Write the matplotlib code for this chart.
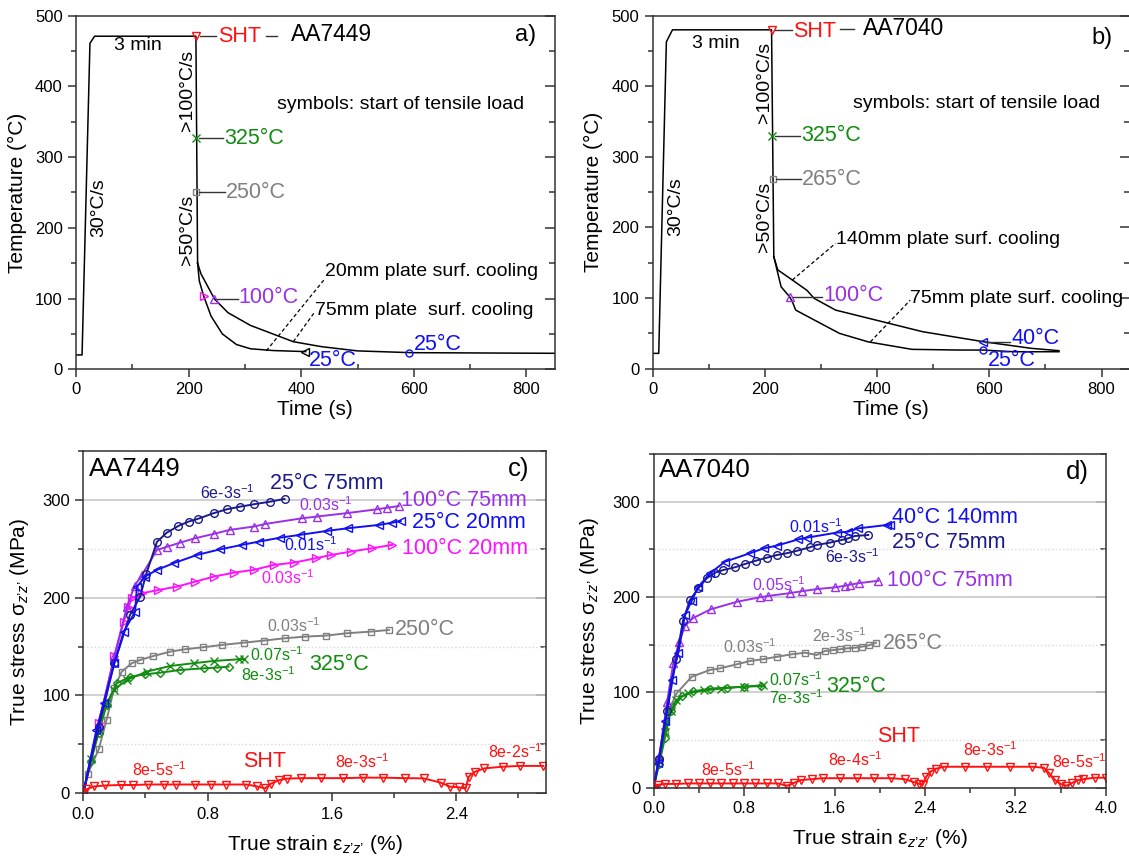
import matplotlib
matplotlib.use("Agg")
import matplotlib.pyplot as plt
from matplotlib.ticker import MultipleLocator, FormatStrFormatter

plt.rcParams['font.family'] = ['Liberation Sans', 'DejaVu Sans']
plt.rcParams['mathtext.fontset'] = 'custom'
plt.rcParams['mathtext.rm'] = 'Liberation Sans'
plt.rcParams['mathtext.it'] = 'Liberation Sans:italic'
plt.rcParams['mathtext.bf'] = 'Liberation Sans:bold'

NAVY = '#1a1a8c'
BLUE = '#1010f0'
PURPLE = '#9a30e8'
MAGENTA = '#ff10ff'
GRAY = '#808080'
GREEN = '#118c11'
RED = '#ff1010'

# ---------------- panel a data (AA7449 thermal history) ----------------
a_main_t = [0, 10.8, 24.8, 33, 213, 216]
a_main_T = [20.3, 20.3, 461, 471, 471, 150]
a_75_t = [216, 222, 246, 270, 310, 386, 436, 500, 595, 850]
a_75_T = [150, 135, 99.4, 80, 62, 39, 32, 26, 23.5, 22.6]
a_20_t = [216, 219, 227, 240, 260, 285, 310, 350, 408]
a_20_T = [150, 125, 103, 75, 50, 35, 29, 26.5, 25]

# ---------------- panel b data (AA7040 thermal history) ----------------
b_main_t = [0, 11, 24.6, 35.5, 212, 216]
b_main_T = [21.7, 21.7, 463, 480, 480, 158.6]
b_140_t = [216, 223, 249, 275, 288, 326, 397, 481, 591, 675, 724]
b_140_T = [158.6, 140, 125.6, 111, 99.6, 83, 69, 52.4, 38, 28.8, 25.5]
b_75_t = [216, 229, 244, 249, 255, 288, 333, 384, 462, 546, 589, 643, 724]
b_75_T = [158.6, 116, 102, 95, 83, 69, 50, 38, 27.4, 26.4, 26.4, 24, 24]

# ---------------- panel c data (AA7449 stress-strain) ----------------
c_25_75_e = [0, 0.1, 0.2, 0.3, 0.366, 0.405, 0.474, 0.538, 0.613, 0.678, 0.736, 0.839, 0.925, 1.011, 1.097, 1.204, 1.295]
c_25_75_s = [0, 68, 133, 182, 201, 224, 257, 266.5, 273.4, 277.8, 280.5, 286.4, 290.4, 293.1, 295.5, 298.2, 301]
c_100_75_e = [0, 0.1, 0.2, 0.28, 0.33, 0.377, 0.474, 0.538, 0.624, 0.721, 0.839, 0.942, 1.097, 1.172, 1.409, 1.501, 1.694, 1.892, 1.957, 2.03]
c_100_75_s = [0, 70, 140, 190, 212, 223, 248.8, 252, 256.3, 260.8, 265.2, 269.3, 272.7, 275.4, 281.2, 282.9, 286.4, 290.4, 292, 293.7]
c_25_20_e = [0, 0.085, 0.131, 0.2, 0.26, 0.334, 0.345, 0.398, 0.474, 0.581, 0.732, 0.882, 1.022, 1.129, 1.269, 1.393, 1.57, 1.703, 1.903, 1.989, 2.043]
c_25_20_s = [0, 65, 92, 133, 165, 185.7, 211, 221.5, 228.4, 235.2, 243.7, 249.5, 254, 257.3, 261.4, 264.2, 268.3, 271, 274.4, 276.7, 278.5]
c_100_20_e = [0, 0.1, 0.2, 0.26, 0.29, 0.313, 0.377, 0.484, 0.603, 0.721, 0.839, 0.968, 1.097, 1.226, 1.355, 1.495, 1.596, 1.72, 1.86, 1.989]
c_100_20_s = [0, 72, 140, 175, 190, 199.4, 204.5, 207.9, 211.3, 216.4, 221.5, 225.6, 228.4, 233.5, 235.8, 240.3, 243.7, 247.1, 250.6, 254]
c_250_e = [0, 0.03, 0.1, 0.15, 0.2, 0.248, 0.313, 0.366, 0.452, 0.56, 0.656, 0.77, 0.893, 1.032, 1.161, 1.295, 1.43, 1.559, 1.694, 1.849, 1.967]
c_250_s = [0, 20, 45, 75, 108, 124.4, 133, 136.3, 140.4, 144.8, 147.3, 149.3, 151.7, 154, 156.1, 158.5, 160.2, 161.2, 163.6, 165.3, 167]
c_325f_e = [0, 0.05, 0.1, 0.15, 0.2, 0.28, 0.409, 0.56, 0.71, 0.839, 1.0, 1.032]
c_325f_s = [0, 35, 65, 92, 106, 115.9, 124.4, 130.2, 133, 135.3, 137, 137.3]
c_325s_e = [0, 0.05, 0.1, 0.15, 0.216, 0.302, 0.398, 0.495, 0.624, 0.774, 0.861, 0.935]
c_325s_s = [0, 33, 62, 90, 112.5, 119.2, 121.7, 123.3, 126.1, 127.8, 128.5, 129.5]
c_sht_e = [0, 0.02, 0.07, 0.14, 0.24, 0.32, 0.42, 0.52, 0.6, 0.72, 0.82, 0.92, 1.05, 1.12, 1.17, 1.21, 1.26, 1.31, 1.4, 1.53, 1.67, 1.8, 1.93, 2.07, 2.19, 2.3, 2.36, 2.42, 2.46, 2.48, 2.52, 2.58, 2.7, 2.81, 2.96]
c_sht_s = [0, 4, 7, 8, 8.5, 8.5, 9, 9, 9, 9, 9, 9, 9, 7, 5, 10, 13.5, 15, 15.5, 15.5, 15.5, 16, 16, 15.5, 15.3, 10.9, 6.8, 6, 5, 17, 22, 25.5, 27.2, 28, 28]

# ---------------- panel d data (AA7040 stress-strain) ----------------
d_40_140_e = [0, 0.039, 0.1, 0.16, 0.219, 0.278, 0.337, 0.396, 0.499, 0.631, 0.852, 0.976, 1.088, 1.28, 1.354, 1.619, 1.722, 1.81, 2.061, 2.09]
d_40_140_s = [0, 25.6, 70, 113, 141.6, 181.1, 196.1, 210.8, 224.9, 237, 245.9, 251.1, 253.8, 260.5, 262.2, 267.5, 268.5, 272, 275.5, 275.8]
d_25_75_e = [0, 0.05, 0.12, 0.2, 0.26, 0.322, 0.396, 0.469, 0.543, 0.616, 0.72, 0.808, 0.905, 1.0, 1.094, 1.177, 1.271, 1.383, 1.442, 1.56, 1.663, 1.722, 1.781, 1.898]
d_25_75_s = [0, 30, 80, 135, 175, 196.9, 209.1, 219.6, 225.5, 228.3, 231.2, 234.6, 238.1, 241.2, 244.1, 245.9, 248.6, 252.1, 254.6, 257, 259.8, 261.6, 264, 265]
d_100_75_e = [0, 0.05, 0.12, 0.174, 0.227, 0.278, 0.35, 0.505, 0.74, 0.941, 1.014, 1.206, 1.309, 1.442, 1.604, 1.692, 1.737, 1.819, 1.987]
d_100_75_s = [0, 32, 90, 130.5, 153.1, 170, 178, 187.1, 195.1, 199.7, 201.1, 204.1, 206, 208.3, 210.1, 211.8, 212.9, 214.6, 217]
d_265_e = [0, 0.05, 0.1, 0.15, 0.204, 0.337, 0.499, 0.587, 0.735, 0.852, 0.965, 1.094, 1.221, 1.339, 1.442, 1.515, 1.589, 1.648, 1.713, 1.781, 1.84, 1.907, 1.966]
d_265_s = [0, 30, 60, 85, 99, 116.4, 123.5, 125.2, 129.4, 132.9, 134.7, 137.4, 139.9, 141.6, 139.2, 143.4, 144.4, 145.2, 146.2, 146.8, 147.9, 149.4, 152.1]
d_325f_e = [0, 0.05, 0.1, 0.15, 0.2, 0.3, 0.45, 0.6, 0.8, 0.97]
d_325f_s = [0, 28, 58, 80, 92, 99, 102, 104, 106, 107.5]
d_325s_e = [0, 0.05, 0.1, 0.15, 0.25, 0.35, 0.5, 0.65, 0.8, 0.95]
d_325s_s = [0, 25, 52, 80, 96, 101, 104, 105, 106, 106.5]
d_sht_e = [0, 0.04, 0.1, 0.2, 0.3, 0.4, 0.5, 0.6, 0.7, 0.8, 0.9, 1.0, 1.1, 1.18, 1.24, 1.3, 1.4, 1.5, 1.65, 1.8, 1.95, 2.1, 2.22, 2.3, 2.35, 2.38, 2.41, 2.45, 2.5, 2.57, 2.75, 2.95, 3.15, 3.35, 3.45, 3.5, 3.55, 3.6, 3.65, 3.7, 3.75, 3.8, 3.9, 4.0]
d_sht_s = [0, 3, 4, 4, 4.5, 4.5, 4.5, 4.5, 4.5, 4.5, 4.5, 4.5, 4.5, 2, 5, 8, 9, 10, 10, 10, 10, 10, 9, 6, 4, 3, 11.5, 17, 20, 22, 22, 22, 22, 22, 21, 15, 8, 4, 2, 5, 8, 9, 10.5, 10.5]

FS_TICK = 12
FS_LAB = 15
FS_NOTE = 14
FS_COL = 15.5
FS_PANEL = 17
FS_COL2 = 15.5
FS_RATE = 11.5
FS_BIG = 18.5

fig = plt.figure(figsize=(11.29, 8.58), dpi=100)
ax_a = fig.add_axes([0.0673, 0.5696, 0.4239, 0.4121])
ax_b = fig.add_axes([0.578, 0.5703, 0.4226, 0.4114])
ax_c = fig.add_axes([0.0737, 0.0754, 0.4103, 0.399])
ax_d = fig.add_axes([0.5789, 0.0819, 0.4007, 0.389])


def style_axes(ax):
    for s in ax.spines.values():
        s.set_linewidth(1.1)
        s.set_color('#333333')
    ax.tick_params(axis='both', which='major', labelsize=FS_TICK, length=6, width=1.1, color='#333333')
    ax.tick_params(axis='both', which='minor', length=3.5, width=1.1, color='#333333')
    ax.tick_params(axis='x', which='both', direction='out')
    ax.tick_params(axis='y', which='both', direction='out', left=True, right=False)
    sec = ax.secondary_yaxis('right')
    sec.set_yticks(ax.get_yticks())
    sec.yaxis.set_minor_locator(ax.yaxis.get_minor_locator())
    sec.tick_params(axis='y', which='major', direction='in', length=7, width=1.1, labelright=False, color='#333333')
    sec.tick_params(axis='y', which='minor', direction='in', length=4, width=1.1, color='#333333')
    sec.spines['right'].set_visible(False)


def temp_panel(ax):
    ax.set_xlim(0, 850)
    ax.set_ylim(0, 500)
    ax.xaxis.set_major_locator(MultipleLocator(200))
    ax.xaxis.set_minor_locator(MultipleLocator(100))
    ax.yaxis.set_major_locator(MultipleLocator(100))
    ax.yaxis.set_minor_locator(MultipleLocator(50))
    ax.set_xlabel('Time (s)', fontsize=FS_LAB, labelpad=2)
    ax.set_ylabel('Temperature (°C)', fontsize=FS_LAB, labelpad=6)
    style_axes(ax)
    ax.tick_params(axis='x', which='minor', direction='in')


def ss_panel(ax, xmax):
    ax.set_xlim(0, xmax)
    ax.set_ylim(0, 350)
    ax.xaxis.set_major_locator(MultipleLocator(0.8))
    ax.xaxis.set_minor_locator(MultipleLocator(0.4))
    ax.xaxis.set_major_formatter(FormatStrFormatter('%.1f'))
    ax.yaxis.set_major_locator(MultipleLocator(100))
    ax.yaxis.set_minor_locator(MultipleLocator(50))
    ax.grid(True, which='major', axis='y', color='#c8c8c8', lw=1.2)
    ax.grid(True, which='minor', axis='y', color='#d8d8d8', lw=1.0, ls=':')
    ax.set_axisbelow(True)
    ax.set_xlabel('True strain ε$_{z’z’}$ (%)', fontsize=FS_LAB, labelpad=8)
    ax.set_ylabel('True stress σ$_{z’z’}$ (MPa)', fontsize=FS_LAB, labelpad=8)
    style_axes(ax)


# ================= panel a =================
temp_panel(ax_a)
lk = dict(color='black', lw=1.1)
ax_a.plot(a_main_t, a_main_T, **lk)
ax_a.plot(a_75_t, a_75_T, **lk)
ax_a.plot(a_20_t, a_20_T, **lk)
mk = dict(mfc='none', ms=6, mew=1.0, ls='none')
ax_a.plot([213], [471], marker='v', mec=RED, **mk)
ax_a.plot([213], [327], marker='x', mec=GREEN, **mk)
ax_a.plot([214], [250], marker='s', mec=GRAY, ms=4.5, mfc='none', mew=1.0, ls='none')
ax_a.plot([227], [103], marker='>', mec=MAGENTA, **mk)
ax_a.plot([246], [99.4], marker='^', mec=PURPLE, **mk)
ax_a.plot([407], [25], marker='<', mec='black', **mk)
ax_a.plot([592], [22.6], marker='o', mec=BLUE, mfc='none', ms=5, mew=1.0, ls='none')
ax_a.plot([220, 248], [471, 471], color='#333333', lw=1.0)
ax_a.plot([338, 357], [472, 472], color='#333333', lw=1.0)
ax_a.plot([218, 262], [327, 327], color='#333333', lw=1.0)
ax_a.plot([219, 265], [250, 250], color='#333333', lw=1.0)
ax_a.plot([250, 288], [99.4, 99.4], color='#333333', lw=1.0)
ax_a.text(253, 471, 'SHT', color=RED, fontsize=FS_COL, va='center', ha='left')
ax_a.text(382, 473, 'AA7449', color='black', fontsize=16.5, va='center', ha='left')
ax_a.text(264, 327, '325°C', color=GREEN, fontsize=FS_COL, va='center', ha='left')
ax_a.text(266, 250, '250°C', color=GRAY, fontsize=FS_COL, va='center', ha='left')
ax_a.text(289, 101, '100°C', color=PURPLE, fontsize=FS_COL, va='center', ha='left')
ax_a.text(413, 13, '25°C', color=BLUE, fontsize=FS_COL, va='center', ha='left')
ax_a.text(600, 35, '25°C', color=BLUE, fontsize=FS_COL, va='center', ha='left')
ax_a.text(110, 458, '3 min', fontsize=FS_NOTE, va='center', ha='center')
ax_a.text(41, 228, '30°C/s', fontsize=FS_NOTE, va='center', ha='center', rotation=90)
ax_a.text(198, 395, '>100°C/s', fontsize=FS_NOTE, va='center', ha='center', rotation=90)
ax_a.text(198, 197, '>50°C/s', fontsize=FS_NOTE, va='center', ha='center', rotation=90)
ax_a.text(357, 375, 'symbols: start of tensile load', fontsize=FS_NOTE, va='center', ha='left')
ax_a.text(443, 138, '20mm plate surf. cooling', fontsize=FS_NOTE, va='center', ha='left')
ax_a.text(424, 83, '75mm plate  surf. cooling', fontsize=FS_NOTE, va='center', ha='left')
ax_a.plot([338, 440], [26, 126], color='black', lw=0.9, ls=(0, (3, 2)))
ax_a.plot([386, 424], [39, 81], color='black', lw=0.9, ls=(0, (3, 2)))
ax_a.text(780, 473, 'a)', fontsize=FS_PANEL, va='center', ha='left')

# ================= panel b =================
temp_panel(ax_b)
ax_b.plot(b_main_t, b_main_T, **lk)
ax_b.plot(b_140_t, b_140_T, **lk)
ax_b.plot(b_75_t, b_75_T, **lk)
ax_b.plot([212], [480], marker='v', mec=RED, **mk)
ax_b.plot([213], [329.6], marker='x', mec=GREEN, **mk)
ax_b.plot([215], [268.6], marker='s', mec=GRAY, ms=4.5, mfc='none', mew=1.0, ls='none')
ax_b.plot([244], [102], marker='^', mec=PURPLE, **mk)
ax_b.plot([588], [38], marker='<', mec=BLUE, **mk)
ax_b.plot([589], [26.4], marker='o', mec=BLUE, mfc='none', ms=5, mew=1.0, ls='none')
ax_b.plot([218, 248], [480, 480], color='#333333', lw=1.0)
ax_b.plot([334, 359], [481, 481], color='#333333', lw=1.0)
ax_b.plot([218, 262], [329.6, 329.6], color='#333333', lw=1.0)
ax_b.plot([220, 264], [268.6, 268.6], color='#333333', lw=1.0)
ax_b.plot([250, 302], [102, 102], color='#333333', lw=1.0)
ax_b.plot([593, 637], [38, 38], color='#333333', lw=1.0)
ax_b.text(251, 478, 'SHT', color=RED, fontsize=FS_COL, va='center', ha='left')
ax_b.text(375, 482, 'AA7040', color='black', fontsize=16.5, va='center', ha='left')
ax_b.text(264, 329.6, '325°C', color=GREEN, fontsize=FS_COL, va='center', ha='left')
ax_b.text(266, 268.6, '265°C', color=GRAY, fontsize=FS_COL, va='center', ha='left')
ax_b.text(304, 103, '100°C', color=PURPLE, fontsize=FS_COL, va='center', ha='left')
ax_b.text(639, 43, '40°C', color=BLUE, fontsize=FS_COL, va='center', ha='left')
ax_b.text(597, 12, '25°C', color=BLUE, fontsize=FS_COL, va='center', ha='left')
ax_b.text(112, 461, '3 min', fontsize=FS_NOTE, va='center', ha='center')
ax_b.text(41, 229, '30°C/s', fontsize=FS_NOTE, va='center', ha='center', rotation=90)
ax_b.text(199, 406, '>100°C/s', fontsize=FS_NOTE, va='center', ha='center', rotation=90)
ax_b.text(199, 215, '>50°C/s', fontsize=FS_NOTE, va='center', ha='center', rotation=90)
ax_b.text(357, 375, 'symbols: start of tensile load', fontsize=FS_NOTE, va='center', ha='left')
ax_b.text(326, 183, '140mm plate surf. cooling', fontsize=FS_NOTE, va='center', ha='left')
ax_b.text(459, 100, '75mm plate surf. cooling', fontsize=FS_NOTE, va='center', ha='left')
ax_b.plot([249, 326], [125.6, 177.5], color='black', lw=0.9, ls=(0, (3, 2)))
ax_b.plot([388, 459], [38, 97], color='black', lw=0.9, ls=(0, (3, 2)))
ax_b.text(782, 468, 'b)', fontsize=FS_PANEL, va='center', ha='left')

# ================= panel c =================
ss_panel(ax_c, 2.98)
sk = dict(lw=1.4, ms=6, mfc='none', mew=1.0)
ax_c.plot(c_250_e, c_250_s, color=GRAY, marker='s', **{**sk, 'ms': 5})
ax_c.plot(c_325s_e, c_325s_s, color=GREEN, marker='D', **{**sk, 'ms': 4})
ax_c.plot(c_325f_e, c_325f_s, color=GREEN, marker='x', **sk)
ax_c.plot(c_100_20_e, c_100_20_s, color=MAGENTA, marker='>', **sk)
ax_c.plot(c_100_75_e, c_100_75_s, color=PURPLE, marker='^', **sk)
ax_c.plot(c_25_75_e, c_25_75_s, color=NAVY, marker='o', **{**sk, 'ms': 5.5})
ax_c.plot(c_25_20_e, c_25_20_s, color=BLUE, marker='<', **sk)
ax_c.plot(c_sht_e, c_sht_s, color=RED, marker='v', **sk)

R = '$^{-1}$'
ax_c.text(1.202, 317, '25°C 75mm', color=NAVY, fontsize=FS_COL2, va='center')
ax_c.text(0.753, 307, '6e-3s' + R, color=NAVY, fontsize=FS_RATE, va='center')
ax_c.text(2.043, 299, '100°C 75mm', color=PURPLE, fontsize=FS_COL2, va='center')
ax_c.text(1.386, 295, '0.03s' + R, color=PURPLE, fontsize=FS_RATE, va='center')
ax_c.text(2.112, 277, '25°C 20mm', color=BLUE, fontsize=FS_COL2, va='center')
ax_c.text(1.294, 254, '0.01s' + R, color=BLUE, fontsize=FS_RATE, va='center')
ax_c.text(2.054, 250.6, '100°C 20mm', color=MAGENTA, fontsize=FS_COL2, va='center')
ax_c.text(1.145, 220, '0.03s' + R, color=MAGENTA, fontsize=FS_RATE, va='center')
ax_c.text(2.008, 167.7, '250°C', color=GRAY, fontsize=FS_COL2, va='center')
ax_c.text(1.18, 171.5, '0.03s' + R, color=GRAY, fontsize=FS_RATE, va='center')
ax_c.text(1.075, 141.5, '0.07s' + R, color=GREEN, fontsize=FS_RATE, va='center')
ax_c.text(1.018, 121.7, '8e-3s' + R, color=GREEN, fontsize=FS_RATE, va='center')
ax_c.text(1.456, 131.3, '325°C', color=GREEN, fontsize=FS_COL2, va='center')
ax_c.text(1.03, 32.4, 'SHT', color=RED, fontsize=FS_COL2, va='center')
ax_c.text(0.316, 23.9, '8e-5s' + R, color=RED, fontsize=FS_RATE, va='center')
ax_c.text(1.617, 32.4, '8e-3s' + R, color=RED, fontsize=FS_RATE, va='center')
ax_c.text(2.607, 42.6, '8e-2s' + R, color=RED, fontsize=FS_RATE, va='center')
ax_c.text(0.035, 332, 'AA7449', fontsize=FS_BIG, va='center')
ax_c.text(2.734, 332, 'c)', fontsize=FS_BIG, va='center')

# ================= panel d =================
ss_panel(ax_d, 4.0)
ax_d.plot(d_265_e, d_265_s, color=GRAY, marker='s', **{**sk, 'ms': 5})
ax_d.plot(d_325s_e, d_325s_s, color=GREEN, marker='D', **{**sk, 'ms': 4.5})
ax_d.plot(d_325f_e, d_325f_s, color=GREEN, marker='x', **sk)
ax_d.plot(d_100_75_e, d_100_75_s, color=PURPLE, marker='^', **sk)
ax_d.plot(d_25_75_e, d_25_75_s, color=NAVY, marker='o', **{**sk, 'ms': 5.5})
ax_d.plot(d_40_140_e, d_40_140_s, color=BLUE, marker='<', **sk)
ax_d.plot(d_sht_e, d_sht_s, color=RED, marker='v', **sk)

ax_d.text(2.107, 283.3, '40°C 140mm', color=BLUE, fontsize=FS_COL2, va='center')
ax_d.text(1.193, 273.5, '0.01s' + R, color=BLUE, fontsize=FS_RATE, va='center')
ax_d.text(2.107, 256.7, '25°C 75mm', color=NAVY, fontsize=FS_COL2, va='center')
ax_d.text(1.514, 242, '6e-3s' + R, color=NAVY, fontsize=FS_RATE, va='center')
ax_d.text(2.06, 217.6, '100°C 75mm', color=PURPLE, fontsize=FS_COL2, va='center')
ax_d.text(0.872, 213.4, '0.05s' + R, color=PURPLE, fontsize=FS_RATE, va='center')
ax_d.text(2.027, 151.2, '265°C', color=GRAY, fontsize=FS_COL2, va='center')
ax_d.text(0.616, 148.4, '0.03s' + R, color=GRAY, fontsize=FS_RATE, va='center')
ax_d.text(1.402, 160, '2e-3s' + R, color=GRAY, fontsize=FS_RATE, va='center')
ax_d.text(1.017, 113, '0.07s' + R, color=GREEN, fontsize=FS_RATE, va='center')
ax_d.text(1.017, 94.4, '7e-3s' + R, color=GREEN, fontsize=FS_RATE, va='center')
ax_d.text(1.53, 105.8, '325°C', color=GREEN, fontsize=FS_COL2, va='center')
ax_d.text(1.979, 53.4, 'SHT', color=RED, fontsize=FS_COL2, va='center')
ax_d.text(0.423, 18.5, '8e-5s' + R, color=RED, fontsize=FS_RATE, va='center')
ax_d.text(1.546, 29, '8e-4s' + R, color=RED, fontsize=FS_RATE, va='center')
ax_d.text(2.733, 39.5, '8e-3s' + R, color=RED, fontsize=FS_RATE, va='center')
ax_d.text(3.519, 27.2, '8e-5s' + R, color=RED, fontsize=FS_RATE, va='center')
ax_d.text(0.045, 333, 'AA7040', fontsize=FS_BIG, va='center')
ax_d.text(3.647, 331, 'd)', fontsize=FS_BIG, va='center')

fig.savefig('out.png', dpi=100)
